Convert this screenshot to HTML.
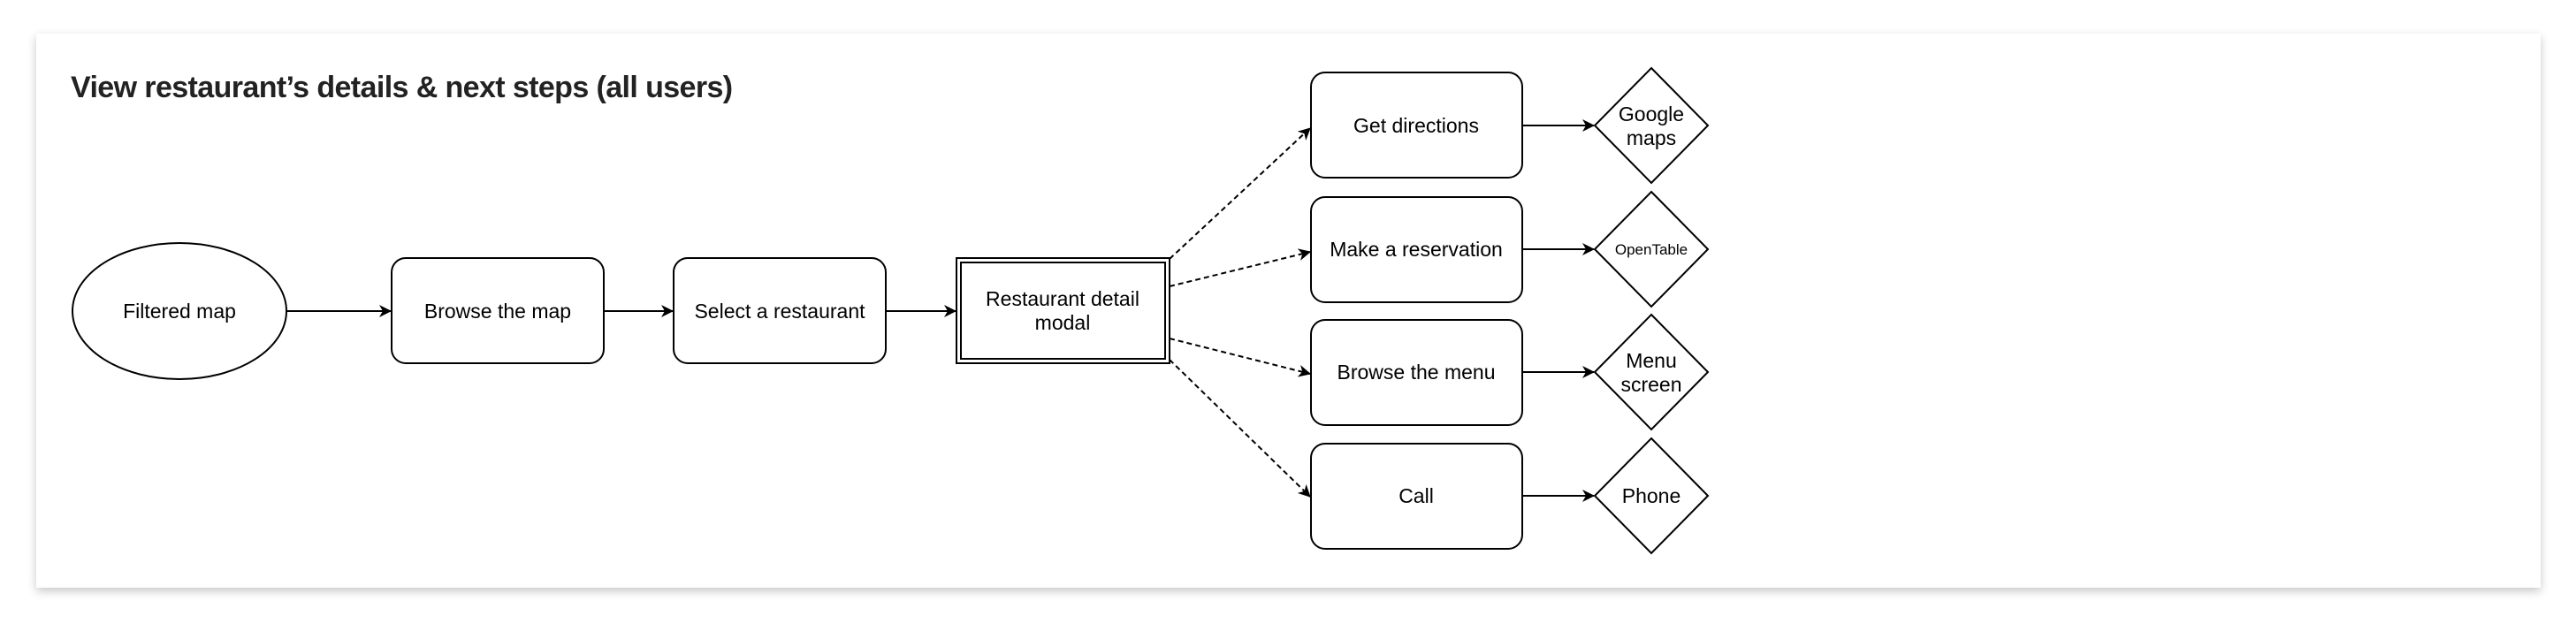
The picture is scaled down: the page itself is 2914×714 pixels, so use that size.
<!DOCTYPE html>
<html><head><meta charset="utf-8"><style>
html,body{margin:0;padding:0;background:#fff;}
body{width:2914px;height:714px;position:relative;overflow:hidden;font-family:"Liberation Sans",sans-serif;}
.card{position:absolute;left:41px;top:38px;width:2833px;height:627px;background:#fff;box-shadow:0 4px 10px rgba(0,0,0,0.22);}
.title{position:absolute;left:80px;top:80px;font-size:34px;font-weight:bold;color:#222;letter-spacing:-0.6px;}
</style></head><body>
<div class="card"></div>
<div class="title">View restaurant’s details &amp; next steps (all users)</div>
<svg width="2914" height="714" style="position:absolute;left:0;top:0" font-family="Liberation Sans, sans-serif" font-size="23" text-anchor="middle">
<defs><marker id="a" markerWidth="14" markerHeight="14" refX="13" refY="7" orient="auto" markerUnits="userSpaceOnUse"><path d="M0,0 L14,7 L0,14 L4,7 Z" fill="#000"/></marker></defs>
<g fill="#fff" stroke="#000" stroke-width="2">
<ellipse cx="203" cy="352" rx="121" ry="77"/>
<rect x="443" y="292" width="240" height="119" rx="16"/>
<rect x="762" y="292" width="240" height="119" rx="16"/>
<rect x="1082" y="292" width="241" height="119"/>
<rect x="1087" y="297" width="231" height="109"/>
<rect x="1483" y="82" width="239" height="119" rx="16"/>
<rect x="1483" y="223" width="239" height="119" rx="16"/>
<rect x="1483" y="362" width="239" height="119" rx="16"/>
<rect x="1483" y="502" width="239" height="119" rx="16"/>
<path d="M1868,77 L1932,142 L1868,207 L1804,142 Z"/>
<path d="M1868,217 L1932,282 L1868,347 L1804,282 Z"/>
<path d="M1868,356 L1932,421 L1868,486 L1804,421 Z"/>
<path d="M1868,496 L1932,561 L1868,626 L1804,561 Z"/>
</g>
<g stroke="#000" stroke-width="2" fill="none" marker-end="url(#a)">
<line x1="324" y1="352" x2="442" y2="352"/>
<line x1="683" y1="352" x2="761" y2="352"/>
<line x1="1002" y1="352" x2="1081" y2="352"/>
<line x1="1722" y1="142" x2="1803" y2="142"/>
<line x1="1722" y1="282" x2="1803" y2="282"/>
<line x1="1722" y1="421" x2="1803" y2="421"/>
<line x1="1722" y1="561" x2="1803" y2="561"/>
<g stroke-dasharray="6,4">
<line x1="1323" y1="293" x2="1482" y2="145"/>
<line x1="1323" y1="324" x2="1482" y2="285"/>
<line x1="1323" y1="383" x2="1482" y2="423"/>
<line x1="1323" y1="407" x2="1482" y2="562"/>
</g>
</g>
<g fill="#000">
<text x="203" y="360">Filtered map</text>
<text x="563" y="360">Browse the map</text>
<text x="882" y="360">Select a restaurant</text>
<text x="1202" y="346">Restaurant detail</text>
<text x="1202" y="373">modal</text>
<text x="1602" y="150">Get directions</text>
<text x="1602" y="290">Make a reservation</text>
<text x="1602" y="429">Browse the menu</text>
<text x="1602" y="569">Call</text>
<text x="1868" y="137">Google</text>
<text x="1868" y="164">maps</text>
<text x="1868" y="288" font-size="17">OpenTable</text>
<text x="1868" y="416">Menu</text>
<text x="1868" y="443">screen</text>
<text x="1868" y="569">Phone</text>
</g>
</svg>
</body></html>
